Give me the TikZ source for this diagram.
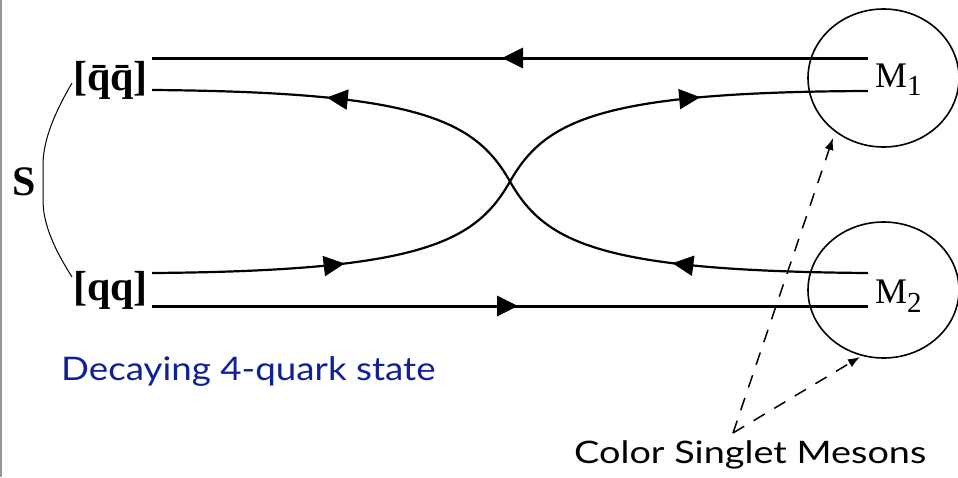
\documentclass[tikz,border=0pt]{standalone}
\usepackage{fontspec}
\setmainfont{Liberation Serif}
\newfontfamily\gillfont{Lato}
\usetikzlibrary{arrows.meta,decorations.markings}
\definecolor{decayblue}{RGB}{16,32,150}
\definecolor{edgegray}{RGB}{150,150,150}
\tikzset{
  fermtip/.tip={Triangle[length=21pt,width=20pt]},
  outerline/.style={line width=3pt},
  innerline/.style={line width=2.2pt},
  onearrow/.style={postaction={decorate},decoration={markings,mark=at position #1 with {\arrow{fermtip}}}},
  twoarrows/.style n args={2}{postaction={decorate},decoration={markings,
     mark=at position #1 with {\arrow{fermtip}},
     mark=at position #2 with {\arrow{fermtip}}}},
  boldlabel/.style={inner sep=0pt,anchor=base west,font=\fontsize{42}{44}\selectfont\bfseries},
  mlabel/.style={inner sep=0pt,anchor=base west,font=\fontsize{36}{38}\selectfont},
  ring/.style={line width=1.6pt},
  dasharrow/.style={line width=1.5pt,dash pattern=on 13pt off 11pt,-{Latex[length=12pt,width=9pt]}},
  bracecurve/.style={line width=1pt}
}
\begin{document}
\begin{tikzpicture}[x=1pt,y=-1pt]
\useasboundingbox (0,0) rectangle (958,477);
\draw[edgegray,line width=2pt] (1,0) -- (1,477);

% labels
\node[boldlabel] (qbar) at (73,90) {[\=q\=q]};
\node[boldlabel] (qq) at (73,300) {[qq]};
\node[boldlabel] (S) at (12,195) {S};
\node[mlabel] (M1) at (875,87) {M\raisebox{-8pt}{\fontsize{29}{30}\selectfont 1}};
\node[mlabel] (M2) at (875,303) {M\raisebox{-9pt}{\fontsize{29}{30}\selectfont 2}};

% line end points
\coordinate (tl) at (152,58);  \coordinate (tr) at (868,58);
\coordinate (ul) at (152,90);  \coordinate (ur) at (868,91);
\coordinate (ll) at (152,273); \coordinate (lr) at (868,273);
\coordinate (bl) at (152,306); \coordinate (br) at (868,306);
\coordinate (X) at (510,181.5);

% straight quark lines
\draw[outerline,onearrow=366pt] (tr) -- (tl);
\draw[outerline,onearrow=366pt] (bl) -- (br);

% crossing curves
\draw[innerline,twoarrows={196pt}{-175pt}] (lr) .. controls (600,271) and (545,243) .. (X)
   .. controls (475,120) and (420,92) .. (ul);
\draw[innerline,twoarrows={193pt}{-168pt}] (ll) .. controls (420,271) and (475,243) .. (X)
   .. controls (545,120) and (600,92) .. (ur);

% S brace
\draw[bracecurve] (72,83) .. controls (55,112) and (43,140) .. (43,165) -- (43,200)
   .. controls (43,225) and (55,250) .. (72,277);

% meson circles
\draw[ring] (883.5,78) ellipse [x radius=75.5, y radius=69];
\node[inner sep=0pt] (ring1) at (883.5,78) {};
\draw[ring] (883.5,290) ellipse [x radius=75.5, y radius=68];
\node[inner sep=0pt] (ring2) at (883.5,290) {};

% texts
\node[inner sep=0pt,anchor=base west,text=decayblue] (decay) at (61,380)
  {\scalebox{1.13}[1]{\gillfont\fontsize{32.5}{34}\selectfont Decaying 4-quark state}};
\node[inner sep=0pt,anchor=base west] (csm) at (574,463)
  {\scalebox{1.22}[1]{\gillfont\fontsize{31}{32}\selectfont Color Singlet Mesons}};

% dashed arrows
\coordinate (cs) at (733,433);
\coordinate (t1) at (833,138);
\coordinate (t2) at (860,357);
\draw[dasharrow] (cs) -- (t1);
\draw[dasharrow] (cs) -- (t2);
\end{tikzpicture}
\end{document}
